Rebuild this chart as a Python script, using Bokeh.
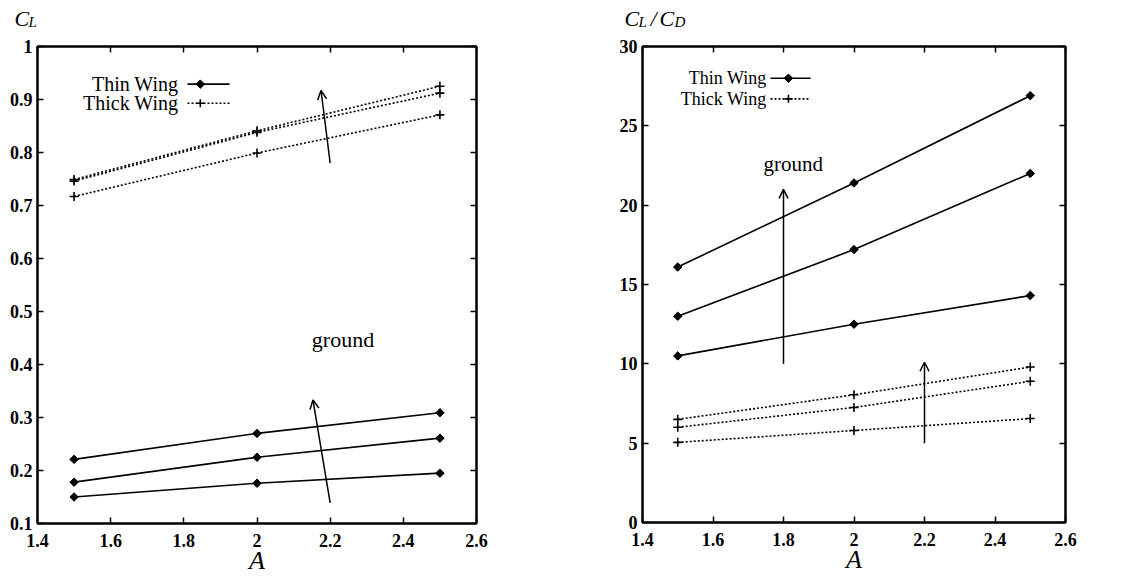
from bokeh.plotting import figure
from bokeh.layouts import row, column
from bokeh.models import (LinearAxis, FixedTicker, CustomJSTickFormatter, Label,
                          Arrow, OpenHead, Range1d, CustomLabelingPolicy)
from bokeh.core.properties import value
from bokeh.embed import file_html
from bokeh.resources import INLINE

# ---------------- data ----------------
aspect = [1.5, 2.0, 2.5]
# lift coefficient, three ground heights each
cl_thin = [[0.221, 0.270, 0.309],
           [0.178, 0.225, 0.261],
           [0.150, 0.176, 0.195]]
cl_thick = [[0.749, 0.841, 0.925],
            [0.746, 0.838, 0.912],
            [0.717, 0.799, 0.871]]
# lift-to-drag ratio
ld_thin = [[16.1, 21.4, 26.9],
           [13.0, 17.2, 22.0],
           [10.5, 12.5, 14.3]]
ld_thick = [[6.5, 8.05, 9.8],
            [6.0, 7.25, 8.9],
            [5.05, 5.8, 6.55]]

x_ticks = [1.4, 1.6, 1.8, 2.0, 2.2, 2.4, 2.6]
cl_ticks = [0.1, 0.2, 0.3, 0.4, 0.5, 0.6, 0.7, 0.8, 0.9, 1.0]
ld_ticks = [0, 5, 10, 15, 20, 25, 30]

# annotation arrows: (x_start, y_start, x_end, y_end)
cl_arrows = [(2.2, 0.78, 2.175, 0.917), (2.2, 0.139, 2.153, 0.333)]
ld_arrows = [(1.8, 10.0, 1.8, 21.0), (2.2, 5.0, 2.2, 10.1)]

# y-axis titles (text pieces, big = main letter, small = subscript)
cl_title = [("C", "big"), ("L", "small")]
ld_title = [("C", "big"), ("L", "small"), ("/", "big"), ("C", "big"), ("D", "small")]

# layout: horizontal advance (px) after each title piece
cl_title_adv = [14, 10]
ld_title_adv = [14, 12, 9, 15, 10]

SERIF = "Liberation Serif"
HEADER_H = 30
FMT = CustomJSTickFormatter(code="return Number(tick.toFixed(2)).toString();")
NO_LABELS_CODE = """
try { for (let i = 0; i < indices.size; i++) { indices.unset(i) } }
catch (e) { for (let i = 0; i < indices.size; i++) { indices.set(i, false) } }
return indices
"""


def no_align(p):
    if "frame_align" in p.properties():
        p.frame_align = False


def make_fig(width, x_range, y_range, yticks, borders):
    bl, br, bt, bb = borders
    p = figure(width=width, height=578 - HEADER_H, output_backend="svg",
               toolbar_location=None, title=None,
               x_range=Range1d(*x_range), y_range=Range1d(*y_range),
               min_border_left=bl, min_border_right=br, min_border_top=bt,
               min_border_bottom=bb, x_axis_location=None, y_axis_location=None)
    no_align(p)
    p.grid.visible = False
    p.outline_line_color = "black"
    p.outline_line_width = 2
    p.background_fill_color = "white"
    p.border_fill_color = "white"
    for loc, ticks, labels in [("below", x_ticks, True), ("above", x_ticks, False),
                               ("left", yticks, True), ("right", yticks, False)]:
        ax = LinearAxis(ticker=FixedTicker(ticks=ticks), formatter=FMT)
        ax.major_tick_in = 6
        ax.major_tick_out = 0
        ax.minor_tick_line_color = None
        ax.axis_line_width = 2
        ax.major_tick_line_width = 1.5
        ax.major_label_text_font = SERIF
        ax.major_label_text_font_style = "bold"
        ax.major_label_text_font_size = "18px"
        ax.major_label_standoff = 5
        ax.major_label_text_color = "black"
        if not labels:
            ax.major_label_policy = CustomLabelingPolicy(code=NO_LABELS_CODE)
            ax.major_label_standoff = 0
        if loc == "below":
            ax.major_label_standoff = 10
            ax.axis_label = "A"
            ax.axis_label_text_font = SERIF
            ax.axis_label_text_font_style = "italic"
            ax.axis_label_text_font_size = "26px"
            ax.axis_label_text_color = "black"
            ax.axis_label_standoff = -4
        p.add_layout(ax, loc)
    return p


def make_header(width, pieces, adv, x0):
    h = figure(width=width, height=HEADER_H, output_backend="svg",
               toolbar_location=None, title=None, x_range=Range1d(0, width),
               y_range=Range1d(0, HEADER_H), min_border=0,
               min_border_left=0, min_border_right=0, min_border_top=0,
               min_border_bottom=0, x_axis_location=None, y_axis_location=None)
    no_align(h)
    h.grid.visible = False
    h.outline_line_color = None
    h.background_fill_color = "white"
    h.border_fill_color = "white"
    xs, cur = [], x0
    for step in adv:
        xs.append(cur)
        cur += step
    bx = [x for x, (t, s) in zip(xs, pieces) if s == "big"]
    bt = [t for t, s in pieces if s == "big"]
    sx = [x for x, (t, s) in zip(xs, pieces) if s == "small"]
    st = [t for t, s in pieces if s == "small"]
    h.text(x=bx, y=[12] * len(bx), text=bt, text_font=value(SERIF),
           text_font_style="italic", text_font_size="22px", text_color="black",
           text_baseline="alphabetic")
    h.text(x=sx, y=[9] * len(sx), text=st, text_font=value(SERIF),
           text_font_style="italic", text_font_size="15px", text_color="black",
           text_baseline="alphabetic")
    return h


def add_series(p, ys, solid):
    for y in ys:
        if solid:
            p.line(aspect, y, line_color="black", line_width=1.6)
            p.scatter(aspect, y, marker="square", angle=0.785, size=6,
                      fill_color="black", line_color="black")
        else:
            p.line(aspect, y, line_color="black", line_width=1.6, line_dash="2 2")
            p.scatter(aspect, y, marker="cross", size=9, line_color="black",
                      line_width=1.6)


def add_legend(p, x_text, y_rows, x_line, x_mark, fsize):
    names = ["Thin Wing", "Thick Wing"]
    for i, (name, yy) in enumerate(zip(names, y_rows)):
        p.add_layout(Label(x=x_text, y=yy, text=name, text_align="right",
                           text_baseline="middle", text_font=SERIF,
                           text_font_size=fsize, text_color="black"))
        if i == 0:
            p.line(x_line, [yy, yy], line_color="black", line_width=1.6)
            p.scatter([x_mark], [yy], marker="square", angle=0.785, size=6,
                      fill_color="black", line_color="black")
        else:
            p.line(x_line, [yy, yy], line_color="black", line_width=1.6, line_dash="2 2")
            p.scatter([x_mark], [yy], marker="cross", size=8, line_color="black",
                      line_width=1.6)


def add_arrows(p, arrows):
    for (xs, ys, xe, ye) in arrows:
        p.add_layout(Arrow(x_start=xs, y_start=ys, x_end=xe, y_end=ye,
                           line_color="black", line_width=1.5,
                           end=OpenHead(size=9, line_width=1.5, line_color="black")))


# ---------------- left: C_L ----------------
h1 = make_header(560, cl_title, cl_title_adv, 14)
p1 = make_fig(560, (1.4, 2.6), (0.1, 1.0), cl_ticks, (37, 84, 43 - HEADER_H - 2, 55))
add_series(p1, cl_thin, True)
add_series(p1, cl_thick, False)
add_legend(p1, 1.785, [0.929, 0.893], [1.81, 1.925], 1.845, "20px")
add_arrows(p1, cl_arrows)
p1.add_layout(Label(x=2.235, y=0.447, text="ground", text_align="center",
                    text_baseline="middle", text_font=SERIF, text_font_size="22px",
                    text_color="black"))

# ---------------- right: C_L/C_D ----------------
h2 = make_header(586, ld_title, ld_title_adv, 64)
p2 = make_fig(586, (1.4, 2.6), (0, 30), ld_ticks, (82, 81, 42 - HEADER_H - 2, 56))
add_series(p2, ld_thin, True)
add_series(p2, ld_thick, False)
add_legend(p2, 1.752, [28.0, 26.7], [1.763, 1.877], 1.814, "18px")
add_arrows(p2, ld_arrows)
p2.add_layout(Label(x=1.828, y=22.6, text="ground", text_align="center",
                    text_baseline="middle", text_font=SERIF, text_font_size="21px",
                    text_color="black"))

layout = row(column(h1, p1, spacing=0), column(h2, p2, spacing=0), spacing=0)
open("out.html", "w").write(file_html(layout, INLINE))
